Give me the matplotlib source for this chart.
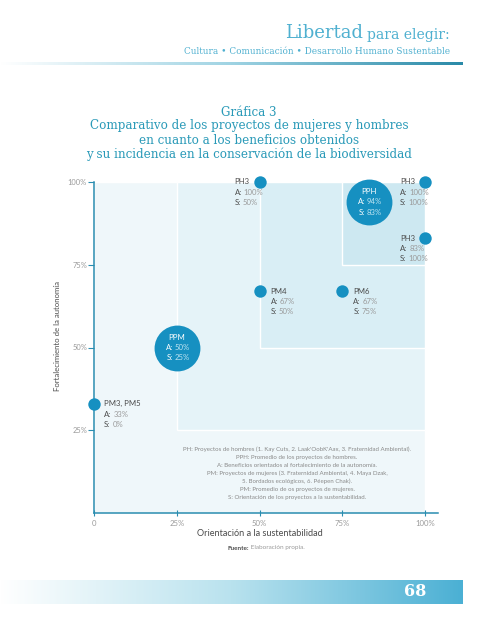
import numpy as np
import matplotlib.pyplot as plt
from matplotlib.patches import Rectangle
from matplotlib.colors import LinearSegmentedColormap

# projects: S = sustentabilidad (x), A = autonomia (y)
names = ['PH3', 'PPH', 'PH3', 'PH3', 'PM4', 'PM6', 'PPM', 'PM3, PM5']
a_vals = [100, 94, 100, 83, 67, 67, 50, 33]
s_vals = [50, 83, 100, 100, 50, 75, 25, 0]
is_avg = [False, True, False, False, False, False, True, False]
label_side = [-25, 0, -25, -25, 11, 11, 0, 10]   # px offset of label text

xticks = [0, 25, 50, 75, 100]
xticklabels = ['0', '25%', '50%', '75%', '100%']
yticks = [25, 50, 75, 100]
yticklabels = ['25%', '50%', '75%', '100%']
zones = [0, 25, 50, 75]
zone_colors = ['#eff7fa', '#e5f3f8', '#d9eef5', '#cde8f1']

notes = [
    "PH: Proyectos de hombres (1. Kay Cuts, 2. Laak'OobK'Aax, 3. Fraternidad Ambiental).",
    "PPH: Promedio de los proyectos de hombres.",
    "A: Beneficios orientados al fortalecimiento de la autonomía.",
    "PM: Proyectos de mujeres (3. Fraternidad Ambiental, 4. Maya Dzak,",
    "5. Bordados ecológicos, 6. Péepen Chak).",
    "PM: Promedio de os proyectos de mujeres.",
    "S: Orientación de los proyectos a la sustentabilidad.",
]

teal = '#1690c1'
axis_col = '#2a8db0'
dark = '#4a4a4a'
light = '#9a9a9a'
head_col = '#4fb0d0'
title_col = '#2a9ab8'
sans = 'Lato'
serif = 'DejaVu Serif'
PT = 0.72  # points per pixel at 100 dpi

fig = plt.figure(figsize=(4.98, 6.4), dpi=100)
fig.patch.set_facecolor('white')

# page decoration in pixel coords
bg = fig.add_axes([0, 0, 1, 1])
bg.axis('off')
grad = np.linspace(0, 1, 256).reshape(1, -1)
line_cmap = LinearSegmentedColormap.from_list('l', ['#ffffff', '#9fd3e3', '#2a8aa8'])
band_cmap = LinearSegmentedColormap.from_list('b', ['#ffffff', '#b9e2ee', '#4bb0d4'])
bg.imshow(grad, extent=(0, 463, 65, 62), cmap=line_cmap, aspect='auto')
bg.imshow(grad, extent=(0, 463, 604, 580), cmap=band_cmap, aspect='auto')
bg.set_xlim(0, 498)
bg.set_ylim(640, 0)

t1 = bg.text(450, 39, 'para elegir:', ha='right', va='baseline', fontsize=10,
             color=head_col, family=serif)
bg.annotate('Libertad', xy=(0, 0), xycoords=t1, xytext=(-3, 0), textcoords='offset points',
            ha='right', va='bottom', fontsize=13, color=head_col, family=serif)
bg.text(450, 52, 'Cultura • Comunicación • Desarrollo Humano Sustentable', ha='right',
        va='center', fontsize=6.4, color=head_col, family=serif)

title_lines = ['Gráfica 3',
               'Comparativo de los proyectos de mujeres y hombres',
               'en cuanto a los beneficios obtenidos',
               'y su incidencia en la conservación de la biodiversidad']
for i, ln in enumerate(title_lines):
    bg.text(249, 112 + i * 14, ln, ha='center', va='center', fontsize=8.6,
            color=title_col, family=serif)

bg.text(415, 592, '68', ha='center', va='center', fontsize=11.5, color='white',
        fontweight='bold', family=serif)

t2 = bg.text(249, 548, ' Elaboración propia.', ha='left', va='center', fontsize=4.6,
             color=light, family=sans)
bg.annotate('Fuente:', xy=(0, 0), xycoords=t2, xytext=(0, 0), textcoords='offset points',
            ha='right', va='bottom', fontsize=4.6, color=dark, fontweight='bold', family=sans)

bg.text(57, 336, 'Fortalecimiento de la autonomía', rotation=90, ha='center', va='center',
        fontsize=5.6, color=dark, family=sans)
bg.text(260, 533, 'Orientación a la sustentabilidad', ha='center', va='center',
        fontsize=6.6, color=dark, family=sans)

# chart
x0, y0, px = 94, 513, 3.31
ax = fig.add_axes([x0 / 498, (640 - y0) / 640, 344 / 498, 331 / 640])
ax.patch.set_alpha(0)
ax.set_xlim(0, 344 / px)
ax.set_ylim(0, 100)

for z, c in zip(zones, zone_colors):
    ax.add_patch(Rectangle((z, z), 100 - z, 100 - z, facecolor=c, edgecolor='white',
                           lw=1.0, zorder=0))

for sp in ['top', 'right']:
    ax.spines[sp].set_visible(False)
for sp in ['left', 'bottom']:
    ax.spines[sp].set_color(axis_col)
    ax.spines[sp].set_linewidth(1.1)

ax.set_xticks(xticks)
ax.set_xticklabels(xticklabels)
ax.set_yticks(yticks)
ax.set_yticklabels(yticklabels)
ax.tick_params(axis='y', direction='out', length=4, width=0.8, color=axis_col,
               labelsize=5.4, labelcolor=light, pad=1)
ax.tick_params(axis='x', direction='inout', length=4, width=0.8, color=axis_col,
               labelsize=5.6, labelcolor=light, pad=3)
for lab in ax.get_xticklabels() + ax.get_yticklabels():
    lab.set_family(sans)

for n, a, s, avg, dx in zip(names, a_vals, s_vals, is_avg, label_side):
    if avg:
        ax.scatter([s], [a], s=1090, color=teal, zorder=5, clip_on=False, linewidths=0)
        ax.annotate(n, (s, a), xytext=(0, 10.5 * PT), textcoords='offset points',
                    ha='center', va='center', fontsize=5.6, color='white', family=sans,
                    annotation_clip=False, zorder=6)
        for k, (key, v) in enumerate([('A:', a), ('S:', s)]):
            ax.annotate(key, (s, a), xytext=(-4 * PT, -k * 10.5 * PT), textcoords='offset points',
                        ha='right', va='center', fontsize=5.6, color='white', family=sans,
                        annotation_clip=False, zorder=6)
            ax.annotate(f'{v}%', (s, a), xytext=(-2 * PT, -k * 10.5 * PT), textcoords='offset points',
                        ha='left', va='center', fontsize=5.6, color='#bfe4f1', family=sans,
                        annotation_clip=False, zorder=6)
    else:
        ax.scatter([s], [a], s=80, color=teal, zorder=5, clip_on=False, linewidths=0)
        ax.annotate(n, (s, a), xytext=(dx * PT, 0), textcoords='offset points',
                    ha='left', va='center', fontsize=5.6, color=dark, family=sans,
                    annotation_clip=False, zorder=6)
        for k, (key, v) in enumerate([('A:', a), ('S:', s)]):
            kt = ax.annotate(key, (s, a), xytext=(dx * PT, -(k + 1) * 10.3 * PT),
                             textcoords='offset points', ha='left', va='center', fontsize=5.6,
                             color=dark, family=sans, annotation_clip=False, zorder=6)
            ax.annotate(f'{v}%', xy=(1, 0), xycoords=kt, xytext=(1.5, 0),
                        textcoords='offset points', ha='left', va='bottom', fontsize=5.6,
                        color=light, family=sans, annotation_clip=False, zorder=6)

# notes on top of the chart zones
for i, ln in enumerate(notes):
    fig.text(297, 449 + i * 8.1, ln, transform=bg.transData, ha='center', va='center',
             fontsize=4.4, color='#8a8a8a', family=sans, zorder=10)

fig.savefig('out.png', dpi=100, facecolor='white')
